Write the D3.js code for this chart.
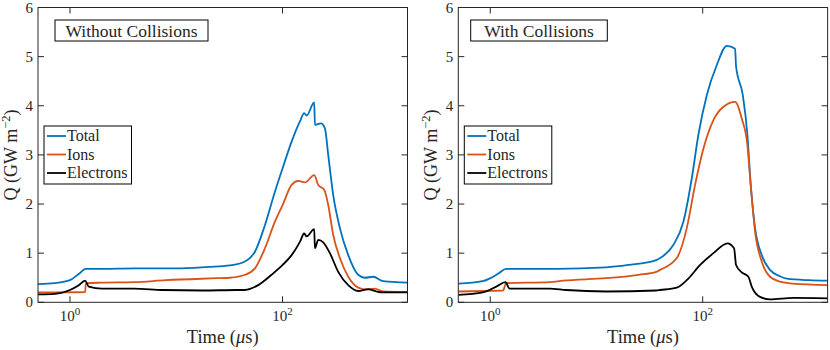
<!DOCTYPE html>
<html>
<head>
<meta charset="utf-8">
<script src="https://cdn.jsdelivr.net/npm/d3@7"></script>
<style>
  body { margin: 0; background: #fff; }
  text { font-family: "Liberation Serif", "Times New Roman", serif; fill: #262626; }
</style>
</head>
<body>
<div id="chart"></div>
<script>
// series data, [time (us), Q (GW m^-2)]
var woTotal = [[0.5,0.37],[0.72,0.39],[1,0.45],[1.2,0.57],[1.41,0.68],[2,0.68],[4,0.69],[10,0.69],[20,0.72],[32,0.75],[44.3,0.83],[55,1.03],[68.3,1.57],[84.8,2.25],[100.2,2.73],[121.8,3.27],[145.8,3.68],[160,3.85],[168.6,3.80],[198.7,4.07],[201.8,3.61],[229.8,3.64],[250.6,3.54],[269.2,3.00],[300,2.18],[346.7,1.51],[415.3,0.96],[515.2,0.56],[595.7,0.50],[713.2,0.52],[885.6,0.43],[1500,0.40]];
var woIons = [[0.5,0.20],[1.39,0.21],[1.41,0.39],[2,0.40],[4,0.41],[8,0.45],[24,0.49],[32,0.50],[44.3,0.56],[55,0.69],[68.3,1.10],[84.8,1.64],[100.2,1.98],[121.8,2.39],[140.6,2.47],[162.5,2.44],[198.7,2.59],[216.8,2.39],[246.8,2.29],[269.2,1.98],[300,1.37],[346.7,0.90],[415.3,0.52],[515.2,0.30],[618.5,0.26],[739.6,0.28],[885.6,0.22],[1500,0.21]];
var woElec = [[0.5,0.16],[0.72,0.17],[1,0.25],[1.2,0.34],[1.39,0.44],[1.5,0.32],[2,0.28],[4,0.28],[7.45,0.25],[17.7,0.24],[36.5,0.25],[44.3,0.25],[59.1,0.35],[78.9,0.56],[100.2,0.76],[121.8,0.96],[145.8,1.23],[160,1.40],[168.6,1.34],[198.7,1.49],[201.8,1.10],[216.8,1.27],[241.6,1.22],[279.2,1.00],[334.3,0.62],[415.3,0.35],[515.2,0.23],[640,0.27],[739.6,0.23],[885.6,0.20],[1500,0.20]];

var wTotal = [[0.5,0.38],[0.85,0.43],[1,0.49],[1.2,0.59],[1.41,0.68],[4.18,0.68],[12.3,0.71],[20,0.76],[36.5,0.86],[39.7,0.90],[53,1.17],[65.8,1.64],[78.9,2.52],[91.1,3.41],[109.4,4.22],[135.8,4.83],[168.6,5.22],[201.8,5.16],[206.2,4.80],[238.4,4.22],[263.6,3.41],[283.3,2.39],[311.3,1.51],[359.7,0.96],[430.5,0.66],[534.5,0.53],[620,0.48],[1000,0.45],[1500,0.44]];
var wIons = [[0.5,0.22],[1.32,0.24],[1.41,0.39],[3.61,0.41],[4.83,0.44],[12.3,0.49],[25,0.56],[36.5,0.62],[39.7,0.66],[57,0.90],[70.8,1.51],[84.8,2.39],[101.6,3.13],[126.2,3.71],[156.6,3.98],[201.8,4.08],[233.2,3.74],[263.6,3.20],[283.3,2.39],[311.3,1.44],[359.7,0.83],[430.5,0.52],[534.5,0.42],[713.2,0.38],[1500,0.35]];
var wElec = [[0.5,0.15],[0.85,0.20],[1.14,0.32],[1.39,0.41],[1.52,0.28],[3.61,0.28],[5.19,0.25],[12.3,0.22],[36.5,0.24],[39.7,0.25],[57,0.30],[70.8,0.45],[94.6,0.76],[126.2,1.00],[170.8,1.20],[197.4,1.10],[206.2,0.76],[233.2,0.61],[269.2,0.52],[289.6,0.32],[346.7,0.11],[430.5,0.06],[713.2,0.09],[1500,0.08]];

var seriesNames = ["Total", "Ions", "Electrons"];
var seriesColors = ["#0072BD", "#D95319", "#000000"];
var panelTitles = ["Without Collisions", "With Collisions"];
var yTicks = [0, 1, 2, 3, 4, 5, 6];
var xTicks = [1, 100];
var xTickExp = ["0", "2"];

var W = 830, H = 350;
var svg = d3.select("#chart").append("svg")
    .attr("width", W)
    .attr("height", H);

var panels = [
    {left: 38, right: 407.5, titleX: 55, titleW: 153, data: [woTotal, woIons, woElec]},
    {left: 458.3, right: 827.6, titleX: 470.7, titleW: 136.6, data: [wTotal, wIons, wElec]}
];
var plotTop = 7.5, plotBottom = 302.3;
var axisColor = "#262626";
var tickLen = 6;

panels.forEach(function(p, pi) {
    var x = d3.scaleLog().domain([0.5, 1500]).range([p.left, p.right]);
    var y = d3.scaleLinear().domain([0, 6]).range([plotBottom, plotTop]);
    var g = svg.append("g");

    // clip for the lines
    g.append("clipPath").attr("id", "clip" + pi)
        .append("rect")
        .attr("x", p.left).attr("y", plotTop)
        .attr("width", p.right - p.left).attr("height", plotBottom - plotTop);

    var line = d3.line()
        .x(function(d) { return x(d[0]); })
        .y(function(d) { return y(d[1]); })
        .curve(d3.curveMonotoneX);

    p.data.forEach(function(s, si) {
        g.append("path")
            .datum(s)
            .attr("clip-path", "url(#clip" + pi + ")")
            .attr("d", line)
            .attr("fill", "none")
            .attr("stroke", seriesColors[si])
            .attr("stroke-width", 1.8)
            .attr("stroke-linejoin", "round");
    });

    // ticks inside, on all four sides
    yTicks.forEach(function(t) {
        g.append("line").attr("x1", p.left).attr("x2", p.left + tickLen)
            .attr("y1", y(t)).attr("y2", y(t)).attr("stroke", axisColor);
        g.append("line").attr("x1", p.right).attr("x2", p.right - tickLen)
            .attr("y1", y(t)).attr("y2", y(t)).attr("stroke", axisColor);
        g.append("text")
            .attr("x", p.left - 5).attr("y", y(t) + 5)
            .attr("text-anchor", "end")
            .attr("font-size", 15)
            .text(t);
    });
    xTicks.forEach(function(t, i) {
        g.append("line").attr("x1", x(t)).attr("x2", x(t))
            .attr("y1", plotBottom).attr("y2", plotBottom - tickLen).attr("stroke", axisColor);
        g.append("line").attr("x1", x(t)).attr("x2", x(t))
            .attr("y1", plotTop).attr("y2", plotTop + tickLen).attr("stroke", axisColor);
        var lab = g.append("text")
            .attr("x", x(t)).attr("y", 321)
            .attr("text-anchor", "middle")
            .attr("font-size", 15);
        lab.append("tspan").text("10");
        lab.append("tspan").attr("dy", -6).attr("font-size", 11).text(xTickExp[i]);
    });

    // axes box
    g.append("rect")
        .attr("x", p.left).attr("y", plotTop)
        .attr("width", p.right - p.left).attr("height", plotBottom - plotTop)
        .attr("fill", "none").attr("stroke", axisColor).attr("stroke-width", 1);

    // x label
    var xl = g.append("text")
        .attr("x", (p.left + p.right) / 2).attr("y", 343)
        .attr("text-anchor", "middle")
        .attr("font-size", 18.5);
    xl.append("tspan").text("Time (");
    xl.append("tspan").attr("font-style", "italic").text("\u03bc");
    xl.append("tspan").text("s)");

    // y label
    var yl = g.append("text")
        .attr("transform", "translate(" + (p.left - 21.5) + "," + ((plotTop + plotBottom) / 2) + ") rotate(-90)")
        .attr("text-anchor", "middle")
        .attr("font-size", 18);
    yl.append("tspan").text("Q (GW m");
    yl.append("tspan").attr("dy", -7).attr("font-size", 12.5).text("\u22122");
    yl.append("tspan").attr("dy", 7).text(")");

    // title box
    g.append("rect")
        .attr("x", p.titleX).attr("y", 20)
        .attr("width", p.titleW).attr("height", 21)
        .attr("fill", "#fff").attr("stroke", "#000").attr("stroke-width", 1);
    g.append("text")
        .attr("x", p.titleX + p.titleW / 2).attr("y", 36.5)
        .attr("text-anchor", "middle")
        .attr("font-size", 17.5)
        .text(panelTitles[pi]);

    // legend
    var lx = p.left + 6, ly = 126;
    g.append("rect")
        .attr("x", lx).attr("y", ly)
        .attr("width", 87.5).attr("height", 58)
        .attr("fill", "#fff").attr("stroke", "#000").attr("stroke-width", 1);
    seriesNames.forEach(function(n, i) {
        var yy = ly + 10 + i * 18.5;
        g.append("line")
            .attr("x1", lx + 3).attr("x2", lx + 22)
            .attr("y1", yy).attr("y2", yy)
            .attr("stroke", seriesColors[i]).attr("stroke-width", 1.8);
        g.append("text")
            .attr("x", lx + 23).attr("y", yy + 5)
            .attr("font-size", 16)
            .text(n);
    });
});
</script>
</body>
</html>
